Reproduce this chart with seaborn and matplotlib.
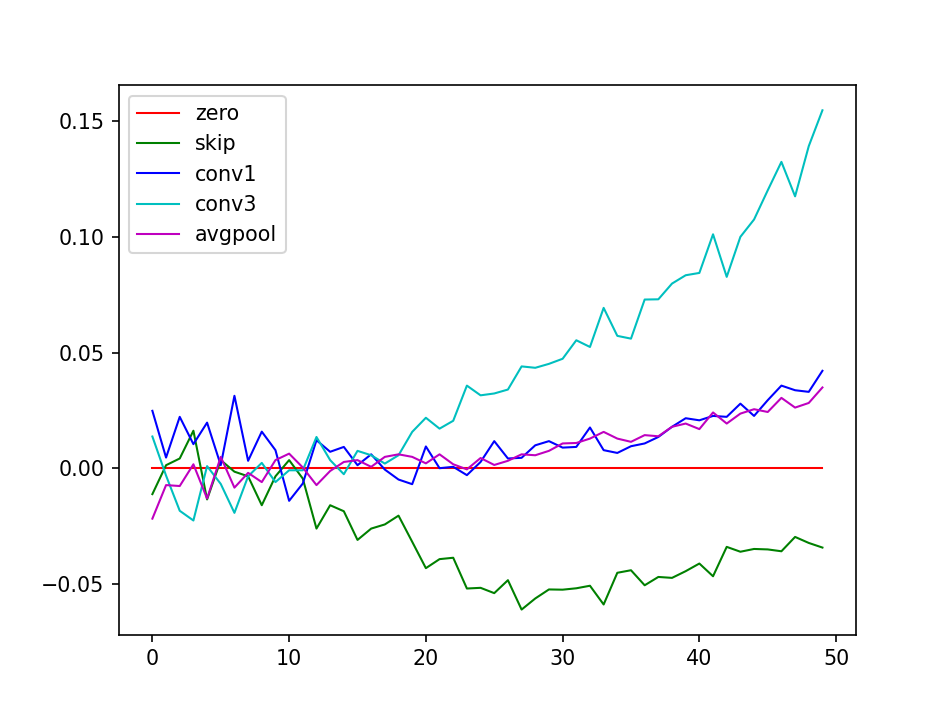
import numpy as np
import pandas as pd
import matplotlib
matplotlib.use("Agg")
import matplotlib.pyplot as plt
import seaborn as sns

steps = list(range(50))
names = ["zero", "skip", "conv1", "conv3", "avgpool"]
colors = ["r", "g", "b", "c", "m"]

zero = [0.0] * 50
skip = [-0.0112, 0.0013, 0.0042, 0.0162, -0.0135, 0.0035, -0.0015, -0.0035, -0.0160, -0.0035,
        0.0035, -0.0045, -0.0261, -0.0160, -0.0186, -0.0310, -0.0261, -0.0243, -0.0205, -0.0318,
        -0.0432, -0.0393, -0.0387, -0.0520, -0.0517, -0.0540, -0.0484, -0.0611, -0.0563, -0.0524,
        -0.0525, -0.0519, -0.0508, -0.0589, -0.0452, -0.0441, -0.0506, -0.0470, -0.0474, -0.0445,
        -0.0412, -0.0467, -0.0340, -0.0361, -0.0349, -0.0351, -0.0359, -0.0297, -0.0323, -0.0343]
conv1 = [0.0248, 0.0046, 0.0222, 0.0104, 0.0197, 0.0013, 0.0313, 0.0032, 0.0158, 0.0078,
         -0.0141, -0.0066, 0.0121, 0.0071, 0.0092, 0.0013, 0.0060, -0.0006, -0.0049, -0.0069,
         0.0094, 0.0000, 0.0006, -0.0030, 0.0027, 0.0117, 0.0042, 0.0045, 0.0099, 0.0117,
         0.0089, 0.0092, 0.0176, 0.0078, 0.0066, 0.0095, 0.0107, 0.0135, 0.0179, 0.0216,
         0.0207, 0.0226, 0.0222, 0.0279, 0.0226, 0.0294, 0.0357, 0.0337, 0.0330, 0.0421]
conv3 = [0.0137, -0.0032, -0.0184, -0.0226, 0.0009, -0.0068, -0.0193, -0.0035, 0.0023, -0.0060,
         -0.0009, -0.0009, 0.0135, 0.0035, -0.0026, 0.0075, 0.0056, 0.0020, 0.0056, 0.0157,
         0.0218, 0.0171, 0.0205, 0.0357, 0.0315, 0.0323, 0.0340, 0.0440, 0.0434, 0.0451,
         0.0473, 0.0553, 0.0524, 0.0693, 0.0572, 0.0560, 0.0729, 0.0730, 0.0798, 0.0834,
         0.0844, 0.1011, 0.0827, 0.1000, 0.1075, 0.1201, 0.1324, 0.1175, 0.1392, 0.1547]
avgpool = [-0.0218, -0.0073, -0.0077, 0.0017, -0.0131, 0.0049, -0.0084, -0.0020, -0.0060, 0.0035,
           0.0063, 0.0003, -0.0073, -0.0012, 0.0027, 0.0035, 0.0006, 0.0049, 0.0060, 0.0049,
           0.0021, 0.0060, 0.0017, -0.0005, 0.0044, 0.0014, 0.0032, 0.0060, 0.0056, 0.0075,
           0.0107, 0.0109, 0.0128, 0.0157, 0.0128, 0.0114, 0.0143, 0.0138, 0.0179, 0.0193,
           0.0169, 0.0241, 0.0193, 0.0236, 0.0255, 0.0243, 0.0304, 0.0262, 0.0282, 0.0349]

series = [zero, skip, conv1, conv3, avgpool]

fig, ax = plt.subplots(figsize=(6.4, 4.8), dpi=148.6)
for name, vals, c in zip(names, series, colors):
    sns.lineplot(x=steps, y=vals, color=c, label=name, linewidth=1.0, ax=ax)

ax.legend(loc="upper left")
fig.savefig("out.png", dpi=148.6)
